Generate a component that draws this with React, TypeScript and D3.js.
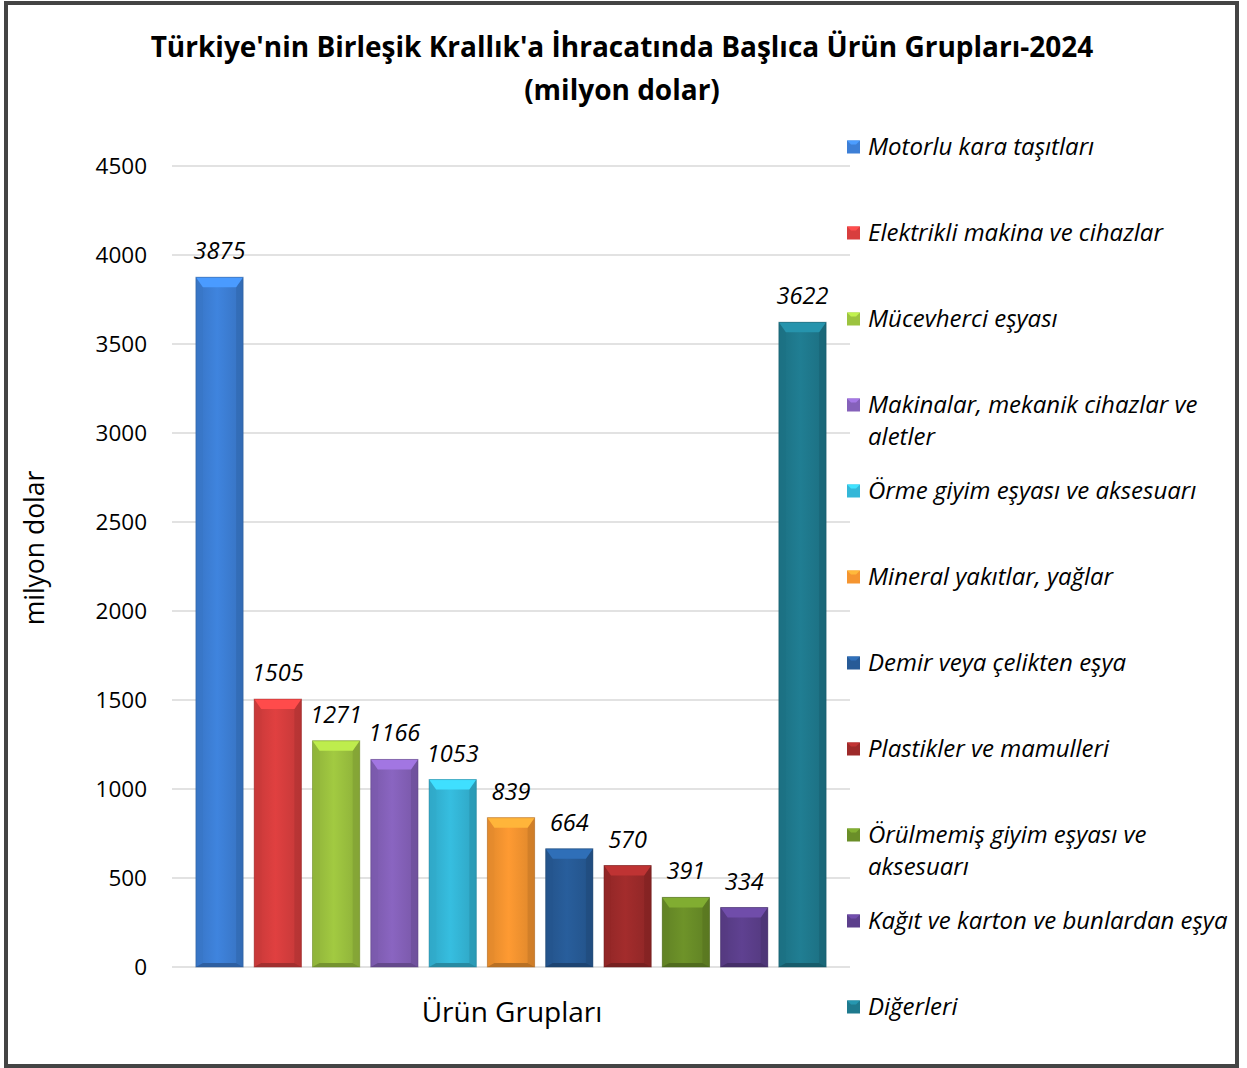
import React from "react";
import * as d3 from "d3";

// product groups (legend order = bar order); "\n" marks a legend line break
const groups = [
  "Motorlu kara taşıtları",
  "Elektrikli makina ve cihazlar",
  "Mücevherci eşyası",
  "Makinalar, mekanik cihazlar ve\naletler",
  "Örme giyim eşyası ve aksesuarı",
  "Mineral yakıtlar, yağlar",
  "Demir veya çelikten eşya",
  "Plastikler ve mamulleri",
  "Örülmemiş giyim eşyası ve\naksesuarı",
  "Kağıt ve karton ve bunlardan eşya",
  "Diğerleri",
];
const values = [3875, 1505, 1271, 1166, 1053, 839, 664, 570, 391, 334, 3622];
const colors = [
  "#3d7fd6",
  "#d83e3e",
  "#9cc33f",
  "#8561ba",
  "#34b7d8",
  "#f59530",
  "#275b97",
  "#9d2a2a",
  "#6a8e28",
  "#5c3f8c",
  "#1f7a8e",
];
const yTicks = [0, 500, 1000, 1500, 2000, 2500, 3000, 3500, 4000, 4500];

const W = 1247;
const H = 1068;
const plotLeft = 172;
const plotRight = 850;
const plotTop = 166;
const plotBottom = 967;
const font = "'Open Sans', 'Noto Sans', sans-serif";

export default function App() {
  const x = d3
    .scaleBand()
    .domain(groups)
    .range([plotLeft, plotRight])
    .paddingInner(0.19)
    .paddingOuter(0.41);
  const y = d3.scaleLinear().domain([0, 4500]).range([plotBottom, plotTop]);
  const legendY = d3.scalePoint().domain(groups).range([147, 1007]);
  const bw = x.bandwidth();

  return (
    <svg
      width={W}
      height={H}
      style={{ position: "absolute", left: 0, top: 0, background: "#fff" }}
      fontFamily={font}
    >
      <defs>
        {colors.map((c, i) => {
          const base = d3.color(c)!;
          return (
            <linearGradient key={i} id={`face${i}`} x1="0" x2="1" y1="0" y2="0">
              <stop offset="0%" stopColor={base.darker(0.25).toString()} />
              <stop offset="45%" stopColor={base.brighter(0.1).toString()} />
              <stop offset="100%" stopColor={base.darker(0.3).toString()} />
            </linearGradient>
          );
        })}
      </defs>

      <rect x={6} y={3} width={1231} height={1063} fill="#fff" stroke="#444" strokeWidth={4} />

      <text x={622} y={57} textAnchor="middle" fontSize={28} fontWeight="bold" fill="#000">
        Türkiye'nin Birleşik Krallık'a İhracatında Başlıca Ürün Grupları-2024
      </text>
      <text x={622} y={100} textAnchor="middle" fontSize={28} fontWeight="bold" fill="#000">
        (milyon dolar)
      </text>

      {/* gridlines + y ticks */}
      {yTicks.map((t) => (
        <g key={t}>
          <line x1={plotLeft} x2={plotRight} y1={y(t)} y2={y(t)} stroke="#d9d9d9" strokeWidth={1.5} />
          <text x={147} y={y(t)} dy="0.35em" textAnchor="end" fontSize={22.5} fill="#000">
            {t}
          </text>
        </g>
      ))}

      {/* bars with bevel */}
      {groups.map((g, i) => {
        const x0 = x(g)!;
        const x1 = x0 + bw;
        const y0 = y(values[i]);
        const y1 = y(0);
        const base = d3.color(colors[i])!;
        const t = 10;
        const s = 7;
        const b = 4;
        return (
          <g key={g}>
            <rect x={x0} y={y0} width={bw} height={y1 - y0} fill={`url(#face${i})`} />
            <polygon
              points={`${x0},${y0} ${x0 + s},${y0 + t} ${x0 + s},${y1 - b} ${x0},${y1}`}
              fill={base.darker(0.2).toString()}
              opacity={0.6}
            />
            <polygon
              points={`${x1},${y0} ${x1 - s},${y0 + t} ${x1 - s},${y1 - b} ${x1},${y1}`}
              fill={base.darker(0.6).toString()}
              opacity={0.6}
            />
            <polygon
              points={`${x0},${y0} ${x1},${y0} ${x1 - s},${y0 + t} ${x0 + s},${y0 + t}`}
              fill={base.brighter(0.55).toString()}
            />
            <polygon
              points={`${x0},${y1} ${x0 + s},${y1 - b} ${x1 - s},${y1 - b} ${x1},${y1}`}
              fill={base.darker(0.8).toString()}
            />
            <rect
              x={x0}
              y={y0}
              width={bw}
              height={y1 - y0}
              fill="none"
              stroke={base.darker(1).toString()}
              strokeOpacity={0.5}
              strokeWidth={1}
            />
            <text
              x={x0 + bw / 2}
              y={y0 - 18}
              textAnchor="middle"
              fontSize={23.5}
              fontStyle="italic"
              fill="#000"
            >
              {values[i]}
            </text>
          </g>
        );
      })}

      {/* axis titles */}
      <text
        transform={`translate(44,548) rotate(-90)`}
        textAnchor="middle"
        fontSize={26.5}
        fill="#000"
      >
        milyon dolar
      </text>
      <text x={512} y={1022} textAnchor="middle" fontSize={28} fill="#000">
        Ürün Grupları
      </text>

      {/* legend */}
      {groups.map((g, i) => {
        const ly = legendY(g)!;
        const base = d3.color(colors[i])!;
        return (
          <g key={`leg${i}`}>
            <rect x={847} y={ly - 6.5} width={13} height={13} fill={base.toString()} />
            <polygon
              points={`${847},${ly - 6.5} ${860},${ly - 6.5} ${856},${ly - 2.5} ${851},${ly - 2.5}`}
              fill={base.brighter(0.6).toString()}
            />
            <text x={868} y={ly} fontSize={24} fontStyle="italic" fill="#000">
              {g.split("\n").map((line, k) => (
                <tspan key={k} x={868} dy={k === 0 ? "0.35em" : 32}>
                  {line}
                </tspan>
              ))}
            </text>
          </g>
        );
      })}
    </svg>
  );
}
